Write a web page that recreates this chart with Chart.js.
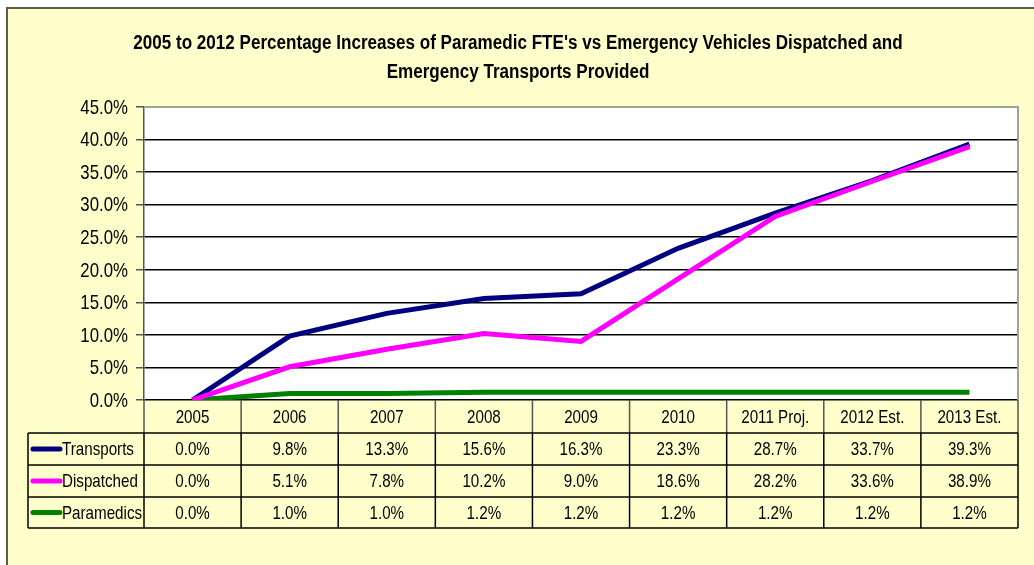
<!DOCTYPE html>
<html><head><meta charset="utf-8">
<script src="https://cdn.jsdelivr.net/npm/chart.js@4.4.1/dist/chart.umd.min.js"></script>
<style>html,body{margin:0;padding:0;background:#fff}#wrap{width:1034px;height:565px}</style>
</head><body><div id="wrap"><canvas id="c" width="1034" height="565"></canvas></div>
<script>
const categories = ['2005','2006','2007','2008','2009','2010','2011 Proj.','2012 Est.','2013 Est.'];
const transports = [0.0, 9.8, 13.3, 15.6, 16.3, 23.3, 28.7, 33.7, 39.3];
const dispatched = [0.0, 5.1, 7.8, 10.2, 9.0, 18.6, 28.2, 33.6, 38.9];
const paramedics = [0.0, 1.0, 1.0, 1.2, 1.2, 1.2, 1.2, 1.2, 1.2];
const seriesNames = ['Transports','Dispatched','Paramedics'];
const seriesColors = ['#000080','#FF00FF','#008000'];
const titleLines = ["2005 to 2012 Percentage Increases of Paramedic FTE's vs Emergency Vehicles Dispatched and","Emergency Transports Provided"];

const FONT = "'Liberation Sans Narrow','Arial Narrow','Liberation Sans',Arial,sans-serif";

function narrowText(ctx, text, x, y, align, sx){
  ctx.save();
  ctx.translate(x, y);
  ctx.scale(sx, 1);
  ctx.textAlign = align;
  ctx.fillText(text, 0, 0);
  ctx.restore();
}

const framePlugin = {
  id:'frame',
  beforeDraw(chart){
    const ctx = chart.ctx, a = chart.chartArea;
    ctx.save();
    ctx.fillStyle = '#ffffff'; ctx.fillRect(0,0,chart.width,chart.height);
    ctx.fillStyle = '#FFFFCC'; ctx.fillRect(7,8,chart.width-7,chart.height-8);
    ctx.strokeStyle = '#5e5e48'; ctx.lineWidth = 2;
    ctx.beginPath(); ctx.moveTo(7,chart.height); ctx.lineTo(7,8); ctx.lineTo(chart.width,8); ctx.stroke();
    ctx.fillStyle = '#ffffff'; ctx.fillRect(a.left,a.top,a.right-a.left,a.bottom-a.top);
    // title
    ctx.fillStyle = '#000';
    ctx.font = 'bold 19.5px '+FONT; ctx.textBaseline = 'middle';
    narrowText(ctx, titleLines[0], 518, 44, 'center', 0.875);
    narrowText(ctx, titleLines[1], 518, 73, 'center', 0.875);
    ctx.restore();
  },
  afterDraw(chart){
    const ctx = chart.ctx, a = chart.chartArea, xs = chart.scales.x, ys = chart.scales.y;
    ctx.save();
    // plot border top/right
    ctx.strokeStyle = '#a0a0a0'; ctx.lineWidth = 2;
    ctx.beginPath(); ctx.moveTo(a.left,a.top); ctx.lineTo(a.right,a.top); ctx.lineTo(a.right,a.bottom); ctx.stroke();
    // y tick labels (narrow)
    ctx.fillStyle = '#000'; ctx.font = '21px '+FONT; ctx.textBaseline = 'middle';
    for (const t of ys.ticks){
      narrowText(ctx, t.value.toFixed(1)+'%', 128, ys.getPixelForValue(t.value)+1, 'right', 0.8);
    }
    // data table
    const n = categories.length;
    const bounds = [];
    for (let i=0;i<=n;i++){
      if (i===0) bounds.push(a.left);
      else if (i===n) bounds.push(a.right);
      else bounds.push((xs.getPixelForValue(i-1)+xs.getPixelForValue(i))/2);
    }
    const hTop = a.bottom, hBot = 433;
    const rowB = [433,465,497,528];
    const tabLeft = 28;
    ctx.strokeStyle = '#555555'; ctx.lineWidth = 1.5;
    for (let i=0;i<=n;i++){ ctx.beginPath(); ctx.moveTo(bounds[i],hTop); ctx.lineTo(bounds[i],hBot); ctx.stroke(); }
    ctx.strokeStyle = '#000000'; ctx.lineWidth = 1.5;
    for (const y of rowB){ ctx.beginPath(); ctx.moveTo(tabLeft,y); ctx.lineTo(a.right,y); ctx.stroke(); }
    ctx.beginPath(); ctx.moveTo(tabLeft,rowB[0]); ctx.lineTo(tabLeft,rowB[3]); ctx.stroke();
    for (let i=0;i<=n;i++){ ctx.beginPath(); ctx.moveTo(bounds[i],rowB[0]); ctx.lineTo(bounds[i],rowB[3]); ctx.stroke(); }
    ctx.fillStyle = '#000'; ctx.font = '18.5px '+FONT; ctx.textBaseline='middle';
    for (let i=0;i<n;i++) narrowText(ctx, categories[i], xs.getPixelForValue(i), (hTop+hBot)/2+1, 'center', 0.82);
    const data = [transports, dispatched, paramedics];
    for (let r=0;r<3;r++){
      const yc = (rowB[r]+rowB[r+1])/2+1;
      ctx.strokeStyle = seriesColors[r]; ctx.lineWidth = 5; ctx.lineCap='round';
      ctx.beginPath(); ctx.moveTo(33,yc-1); ctx.lineTo(60,yc-1); ctx.stroke();
      ctx.fillStyle='#000';
      narrowText(ctx, seriesNames[r], 62, yc, 'left', 0.82);
      for (let i=0;i<n;i++) narrowText(ctx, data[r][i].toFixed(1)+'%', xs.getPixelForValue(i), yc, 'center', 0.82);
    }
    ctx.restore();
  }
};

new Chart(document.getElementById('c'), {
  type:'line',
  data:{
    labels: categories,
    datasets:[
      {label:seriesNames[2], data:paramedics, borderColor:seriesColors[2], borderWidth:5, pointRadius:0, tension:0, order:3},
      {label:seriesNames[0], data:transports, borderColor:seriesColors[0], borderWidth:5, pointRadius:0, tension:0, order:2},
      {label:seriesNames[1], data:dispatched, borderColor:seriesColors[1], borderWidth:5, pointRadius:0, tension:0, order:1}
    ]
  },
  options:{
    responsive:false, animation:false, devicePixelRatio:1,
    layout:{padding:{left:0,right:16,top:107,bottom:165}},
    plugins:{ legend:{display:false}, tooltip:{enabled:false}, title:{display:false} },
    scales:{
      x:{display:false, offset:true},
      y:{
        min:0, max:45,
        afterFit(s){ s.width = 144; },
        ticks:{stepSize:5, color:'rgba(0,0,0,0)', padding:8, font:{family:FONT,size:19}, callback:v=>v.toFixed(1)+'%'},
        grid:{color:ctx=>ctx.tick && ctx.tick.value===45?'#a0a0a0':'#000', lineWidth:1.5, tickLength:8, tickColor:'#555'},
        border:{color:'#555', width:1.5}
      }
    }
  },
  plugins:[framePlugin]
});
</script></body></html>
